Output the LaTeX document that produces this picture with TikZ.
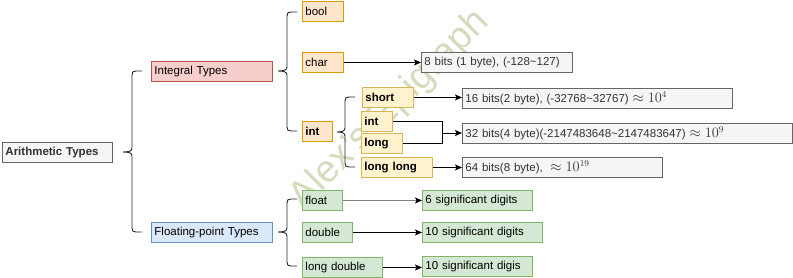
\documentclass[tikz,border=0pt]{standalone}
\usepackage{fontspec}
\setmainfont{Liberation Sans}
\usetikzlibrary{arrows.meta,calc}

\definecolor{grayfill}{HTML}{F5F5F5}
\definecolor{grayline}{HTML}{666666}
\definecolor{graytext}{HTML}{333333}
\definecolor{redfill}{HTML}{F8CECC}
\definecolor{redline}{HTML}{B85450}
\definecolor{bluefill}{HTML}{DAE8FC}
\definecolor{blueline}{HTML}{6C8EBF}
\definecolor{orangefill}{HTML}{FFE6CC}
\definecolor{orangeline}{HTML}{D79B00}
\definecolor{yellowfill}{HTML}{FFF2CC}
\definecolor{yellowline}{HTML}{D6B656}
\definecolor{greenfill}{HTML}{D5E8D4}
\definecolor{greenline}{HTML}{82B366}
\definecolor{markcolor}{HTML}{D5DBBD}

% curly brace: tip x, spine x, end x, top y, middle y, bottom y
\newcommand\bracepath[6]{%
  \draw[bracestyle] (#3,#4) -- ($(#2,#4)+(4,0)$)
    .. controls (#2+1,#4) and (#2,#4+1) .. (#2,#4+4)
    -- (#2,#5-4)
    .. controls (#2,#5-1) and (#2-3,#5) .. (#1,#5)
    .. controls (#2-3,#5) and (#2,#5+1) .. (#2,#5+4)
    -- (#2,#6-4)
    .. controls (#2,#6-1) and (#2+1,#6) .. ($(#2,#6)+(4,0)$)
    -- (#3,#6);}

% formula set a little larger than the surrounding label text
\newcommand\bigmath[1]{{\fontsize{13.5}{14}\selectfont$#1$}}

\begin{document}
\begin{tikzpicture}[x=1pt,y=-1pt,
  every node/.style={font=\fontsize{11.5}{13}\selectfont},
  box/.style={draw, line width=0.9pt, anchor=north west, inner xsep=3pt,
    inner ysep=0pt, minimum height=20pt, align=left},
  grey/.style={box, fill=grayfill, draw=grayline, text=graytext},
  red/.style={box, fill=redfill, draw=redline},
  blue/.style={box, fill=bluefill, draw=blueline},
  orange/.style={box, fill=orangefill, draw=orangeline},
  yellow/.style={box, fill=yellowfill, draw=yellowline, font=\fontsize{11.5}{13}\selectfont\bfseries},
  green/.style={box, fill=greenfill, draw=greenline},
  bracestyle/.style={draw=black!85, line width=0.9pt},
  arr/.style={draw=black, line width=0.9pt, -{Stealth[length=7pt,width=6pt,inset=1.5pt]}},
  link/.style={draw=black, line width=0.9pt},
]
\useasboundingbox (0,0) rectangle (793,277);

% watermark, behind everything
\node[text=markcolor, rotate=45, font=\fontsize{38}{40}\selectfont] (mark) at (390,110) {Alex's Epigraph};

% root and first level
\node[grey, font=\fontsize{11.5}{13}\selectfont\bfseries, text width=104pt] (arith) at (2,142) {Arithmetic Types};
\node[red, text width=115pt] (integral) at (151,61) {Integral Types};
\node[blue, text width=115pt] (floating) at (151,222) {Floating-point Types};

% integral types
\node[orange, text width=35pt] (bool) at (302,1) {bool};
\node[orange, text width=35pt] (char) at (302,52) {char};
\node[orange, font=\fontsize{11.5}{13}\selectfont\bfseries, text width=24pt] (int) at (302,121) {int};

\node[yellow, text width=45pt] (short) at (362,87) {short};
\node[yellow, text width=25pt] (intb) at (361,111) {int};
\node[yellow, text width=35pt] (long) at (361,133) {long};
\node[yellow, text width=65pt] (longlong) at (361,157) {long long};

\node[grey, text width=145pt] (b8) at (421,52) {\mbox{8 bits (1 byte), (-128\textasciitilde127)}};
\node[grey, text width=264pt] (b16) at (462,88) {\mbox{16 bits(2 byte), (-32768\textasciitilde32767) \bigmath{\approx 10^4}}};
\node[grey, text width=324pt] (b32) at (462,123) {\mbox{32 bits(4 byte)(-2147483648\textasciitilde2147483647) \bigmath{\approx 10^9}}};
\node[grey, text width=194pt] (b64) at (462,157) {\mbox{64 bits(8 byte),\ \ \bigmath{\approx 10^{19}}}};

% floating-point types
\node[green, text width=34pt] (float) at (302,190) {float};
\node[green, text width=44pt] (double) at (302,222) {double};
\node[green, text width=74pt] (ldouble) at (302,257) {long double};

\node[green, text width=104pt] (s6) at (422,190) {6 significant digits};
\node[green, text width=114pt] (s10) at (422,222) {10 significant digits};
\node[green, text width=104pt] (s10b) at (422,256) {10 significant digis};

% braces
\bracepath{123}{132}{142}{71}{152}{232}
\bracepath{278}{287}{297}{12}{71}{131}
\bracepath{278}{287}{297}{199}{232}{266}
\bracepath{337}{345}{355}{97}{132}{167}

% connectors
\draw[arr] (char.east) -- (char.east -| b8.west);
\draw[arr] (short.east) -- (short.east -| b16.west);
\coordinate (join) at (442,133);
\draw[link] (intb.east) -| (join);
\draw[link] (long.east) -| (join);
\draw[arr] (join) -- (join -| b32.west);
\draw[arr] (longlong.east) -- (longlong.east -| b64.west);

\draw[arr, draw=black!50, line width=1.7pt, -{Stealth[length=7pt,width=6pt,inset=1.5pt,black,line width=0.9pt]}] (float.east) -- (float.east -| s6.west);
\draw[arr] (double.east) -- (double.east -| s10.west);
\draw[arr] (ldouble.east) -- (ldouble.east -| s10b.west);
\end{tikzpicture}
\end{document}
